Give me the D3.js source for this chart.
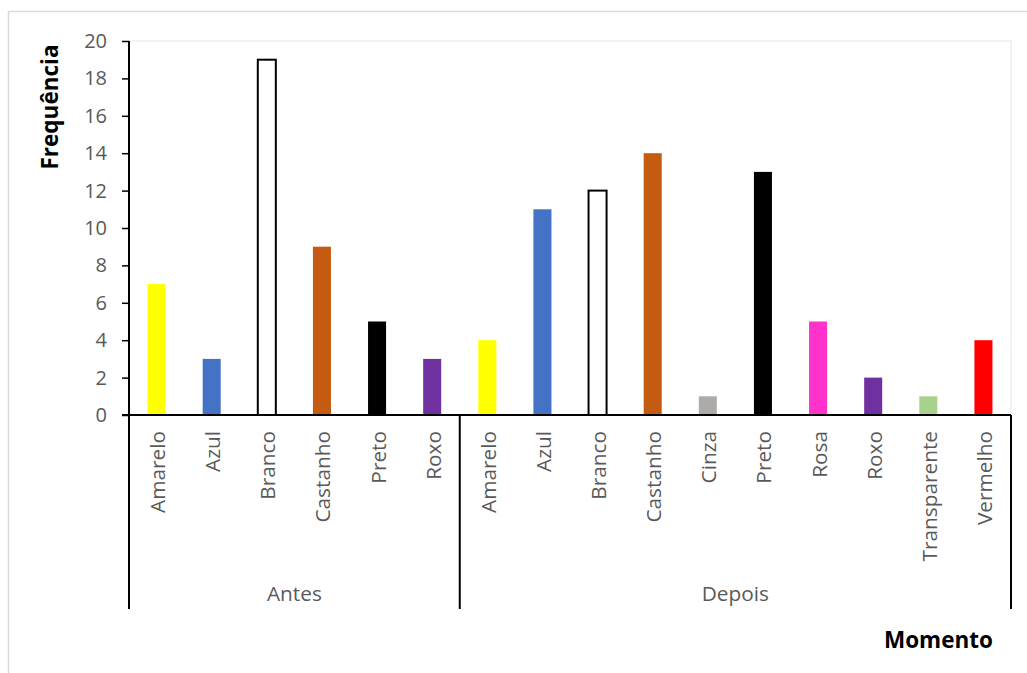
<!DOCTYPE html>
<html>
<head>
<meta charset="utf-8">
<script src="https://cdn.jsdelivr.net/npm/d3@7"></script>
<style>
  html, body { margin: 0; padding: 0; background: #ffffff; }
  svg { display: block; font-family: "Open Sans", "Noto Sans", sans-serif; }
</style>
</head>
<body>
<svg id="chart" width="1027" height="673"></svg>
<script>
// Frequência das cores por momento
const groups = ["Antes", "Depois"];
const antesCores = ["Amarelo", "Azul", "Branco", "Castanho", "Preto", "Roxo"];
const antesValores = [7, 3, 19, 9, 5, 3];
const depoisCores = ["Amarelo", "Azul", "Branco", "Castanho", "Cinza", "Preto", "Rosa", "Roxo", "Transparente", "Vermelho"];
const depoisValores = [4, 11, 12, 14, 1, 13, 5, 2, 1, 4];
const yTicks = [0, 2, 4, 6, 8, 10, 12, 14, 16, 18, 20];

const palette = {
  Amarelo: "#FFFF00", Azul: "#4472C4", Branco: "#FFFFFF", Castanho: "#C55A11",
  Preto: "#000000", Roxo: "#7030A0", Cinza: "#AEAAAA", Rosa: "#FF33CC",
  Transparente: "#A9D18E", Vermelho: "#FF0000"
};

const rows = [
  ...antesCores.map((c, i) => ({ group: "Antes", cor: c, valor: antesValores[i] })),
  ...depoisCores.map((c, i) => ({ group: "Depois", cor: c, valor: depoisValores[i] }))
];
rows.forEach((d, i) => d.key = i);

const plot = { left: 129, right: 1011, top: 41, bottom: 415 };
const axisBottom = 609;

const svg = d3.select("#chart");

// outer chart frame
svg.append("rect")
  .attr("x", 8.5).attr("y", 11.5)
  .attr("width", 1040).attr("height", 700)
  .attr("fill", "none").attr("stroke", "#d9d9d9").attr("stroke-width", 1.5);

// plot area frame
svg.append("rect")
  .attr("x", plot.left).attr("y", plot.top)
  .attr("width", plot.right - plot.left).attr("height", plot.bottom - plot.top)
  .attr("fill", "none").attr("stroke", "#eeeeee").attr("stroke-width", 1.5);

const x = d3.scaleBand()
  .domain(rows.map(d => d.key))
  .range([plot.left, plot.right])
  .padding(0);

const y = d3.scaleLinear().domain([0, 20]).range([plot.bottom, plot.top]);

const barW = x.bandwidth() * 0.327;

// bars
svg.append("g").selectAll("rect")
  .data(rows)
  .join("rect")
  .attr("x", d => x(d.key) + (x.bandwidth() - barW) / 2)
  .attr("y", d => y(d.valor))
  .attr("width", barW)
  .attr("height", d => y(0) - y(d.valor))
  .attr("fill", d => palette[d.cor])
  .attr("stroke", d => d.cor === "Branco" ? "#000000" : "none")
  .attr("stroke-width", d => d.cor === "Branco" ? 2 : 0);

// y axis
const yAxis = svg.append("g")
  .attr("transform", `translate(${plot.left},0)`)
  .call(d3.axisLeft(y).tickValues(yTicks).tickSize(7).tickPadding(15).tickFormat(d3.format("d")));
yAxis.select(".domain").remove();
yAxis.selectAll(".tick line").attr("stroke", "#000").attr("stroke-width", 1.5);
yAxis.selectAll(".tick text")
  .attr("fill", "#595959")
  .style("font-size", "20px")
  .style("font-family", "'Open Sans', sans-serif");

svg.append("line")
  .attr("x1", plot.left).attr("x2", plot.left)
  .attr("y1", plot.top).attr("y2", axisBottom)
  .attr("stroke", "#000").attr("stroke-width", 2);

// zero line
svg.append("line")
  .attr("x1", plot.left - 7).attr("x2", plot.right)
  .attr("y1", y(0)).attr("y2", y(0))
  .attr("stroke", "#000").attr("stroke-width", 2);

// group separators on the category axis
const groupEnds = groups.map(g => {
  const items = rows.filter(d => d.group === g);
  return { g, x0: x(items[0].key), x1: x(items[items.length - 1].key) + x.bandwidth() };
});
svg.append("g").selectAll("line")
  .data(groupEnds)
  .join("line")
  .attr("x1", d => d.x1).attr("x2", d => d.x1)
  .attr("y1", y(0)).attr("y2", axisBottom)
  .attr("stroke", "#000").attr("stroke-width", 2);

// category labels
svg.append("g").selectAll("text")
  .data(rows)
  .join("text")
  .attr("transform", d => `translate(${x(d.key) + x.bandwidth() / 2 + 1},${y(0) + 16}) rotate(-90)`)
  .attr("text-anchor", "end")
  .attr("dy", "0.36em")
  .attr("fill", "#595959")
  .style("font-size", "20.8px")
  .text(d => d.cor);

// group labels
svg.append("g").selectAll("text")
  .data(groupEnds)
  .join("text")
  .attr("x", d => (d.x0 + d.x1) / 2)
  .attr("y", 601)
  .attr("text-anchor", "middle")
  .attr("fill", "#595959")
  .style("font-size", "20.8px")
  .text(d => d.g);

// axis titles
svg.append("text")
  .attr("transform", "translate(58,107) rotate(-90)")
  .attr("text-anchor", "middle")
  .attr("font-weight", "bold")
  .attr("fill", "#000")
  .style("font-size", "22.5px")
  .text("Frequência");

svg.append("text")
  .attr("x", 993).attr("y", 648)
  .attr("text-anchor", "end")
  .attr("font-weight", "bold")
  .attr("fill", "#000")
  .style("font-size", "22.5px")
  .text("Momento");
</script>
</body>
</html>
